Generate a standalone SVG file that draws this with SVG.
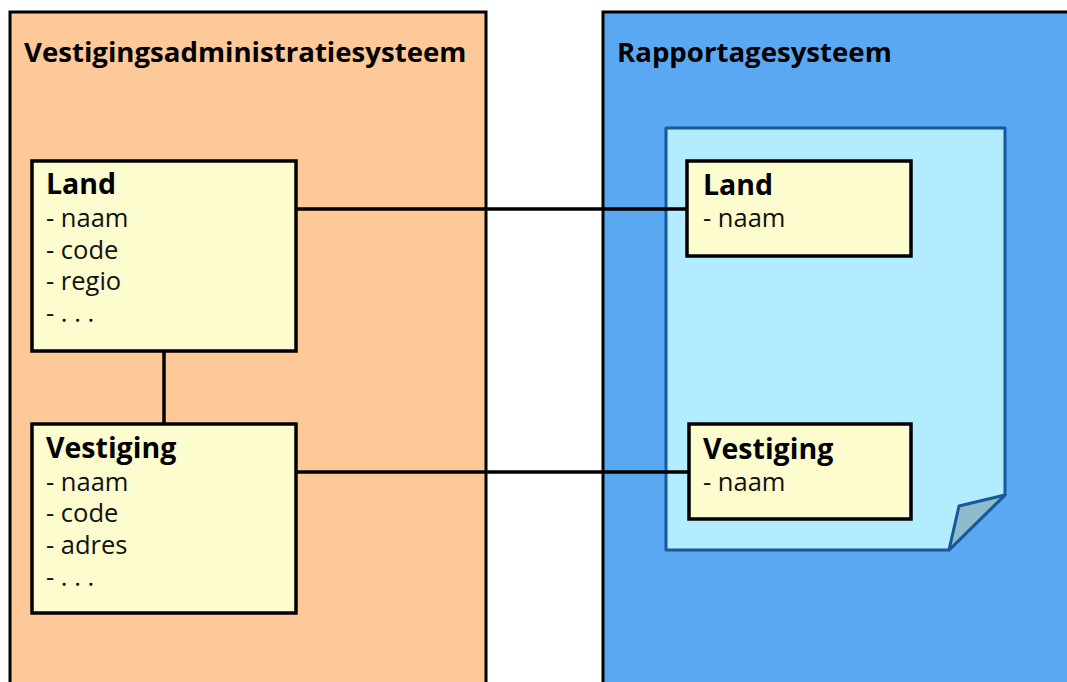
<svg xmlns="http://www.w3.org/2000/svg" width="1067" height="682" viewBox="0 0 1067 682">
  <style>
    .sys { stroke: #000; stroke-width: 3; }
    .box { fill: #FCFCCE; stroke: #000; stroke-width: 3.5; }
    .title { font-family: "Open Sans", "Liberation Sans", sans-serif; font-weight: bold; font-size: 27.6px; fill: #000; }
    .name { font-family: "Open Sans", "Liberation Sans", sans-serif; font-weight: bold; font-size: 28.5px; fill: #000; }
    .attr { font-family: "Open Sans", "Liberation Sans", sans-serif; font-size: 25.5px; fill: #111; }
    .conn { stroke: #000; stroke-width: 3.5; fill: none; }
  </style>
  <rect width="1067" height="682" fill="#FFFFFF"/>
  <g id="vestigingsadministratiesysteem">
    <rect class="sys" x="10" y="12" width="476" height="690" fill="#FEC998"/>
    <text class="title" x="24" y="62">Vestigingsadministratiesysteem</text>
  </g>
  <g id="rapportagesysteem">
    <rect class="sys" x="603" y="12" width="480" height="690" fill="#5BA8F2"/>
    <text class="title" x="617" y="62">Rapportagesysteem</text>
  </g>
  <g id="rapport">
    <path d="M666,128 H1005 V495 L949,550 H666 Z" fill="#B3ECFE" stroke="#17599A" stroke-width="3" stroke-linejoin="round"/>
    <path d="M959,506 L1005,495 L949,550 Z" fill="#8FBCCB" stroke="#17599A" stroke-width="3" stroke-linejoin="round"/>
  </g>
  <g id="connectors">
    <line class="conn" x1="296" y1="209" x2="687" y2="209"/>
    <line class="conn" x1="296" y1="472" x2="689" y2="472"/>
    <line class="conn" x1="164" y1="351" x2="164" y2="424"/>
  </g>
  <g id="land-bron">
    <rect class="box" x="32" y="161" width="264" height="190"/>
    <text class="name" x="46" y="194">Land</text>
    <text class="attr" x="46" y="227">- naam</text>
    <text class="attr" x="46" y="259">- code</text>
    <text class="attr" x="46" y="290">- regio</text>
    <text class="attr" x="46" y="322">- . . .</text>
  </g>
  <g id="vestiging-bron">
    <rect class="box" x="32" y="424" width="264" height="189"/>
    <text class="name" x="46" y="458">Vestiging</text>
    <text class="attr" x="46" y="491">- naam</text>
    <text class="attr" x="46" y="522">- code</text>
    <text class="attr" x="46" y="554">- adres</text>
    <text class="attr" x="46" y="586">- . . .</text>
  </g>
  <g id="land-rapport">
    <rect class="box" x="687" y="161" width="224" height="95"/>
    <text class="name" x="703" y="195">Land</text>
    <text class="attr" x="703" y="227">- naam</text>
  </g>
  <g id="vestiging-rapport">
    <rect class="box" x="689" y="424" width="222" height="95"/>
    <text class="name" x="703" y="459">Vestiging</text>
    <text class="attr" x="703" y="491">- naam</text>
  </g>
</svg>
